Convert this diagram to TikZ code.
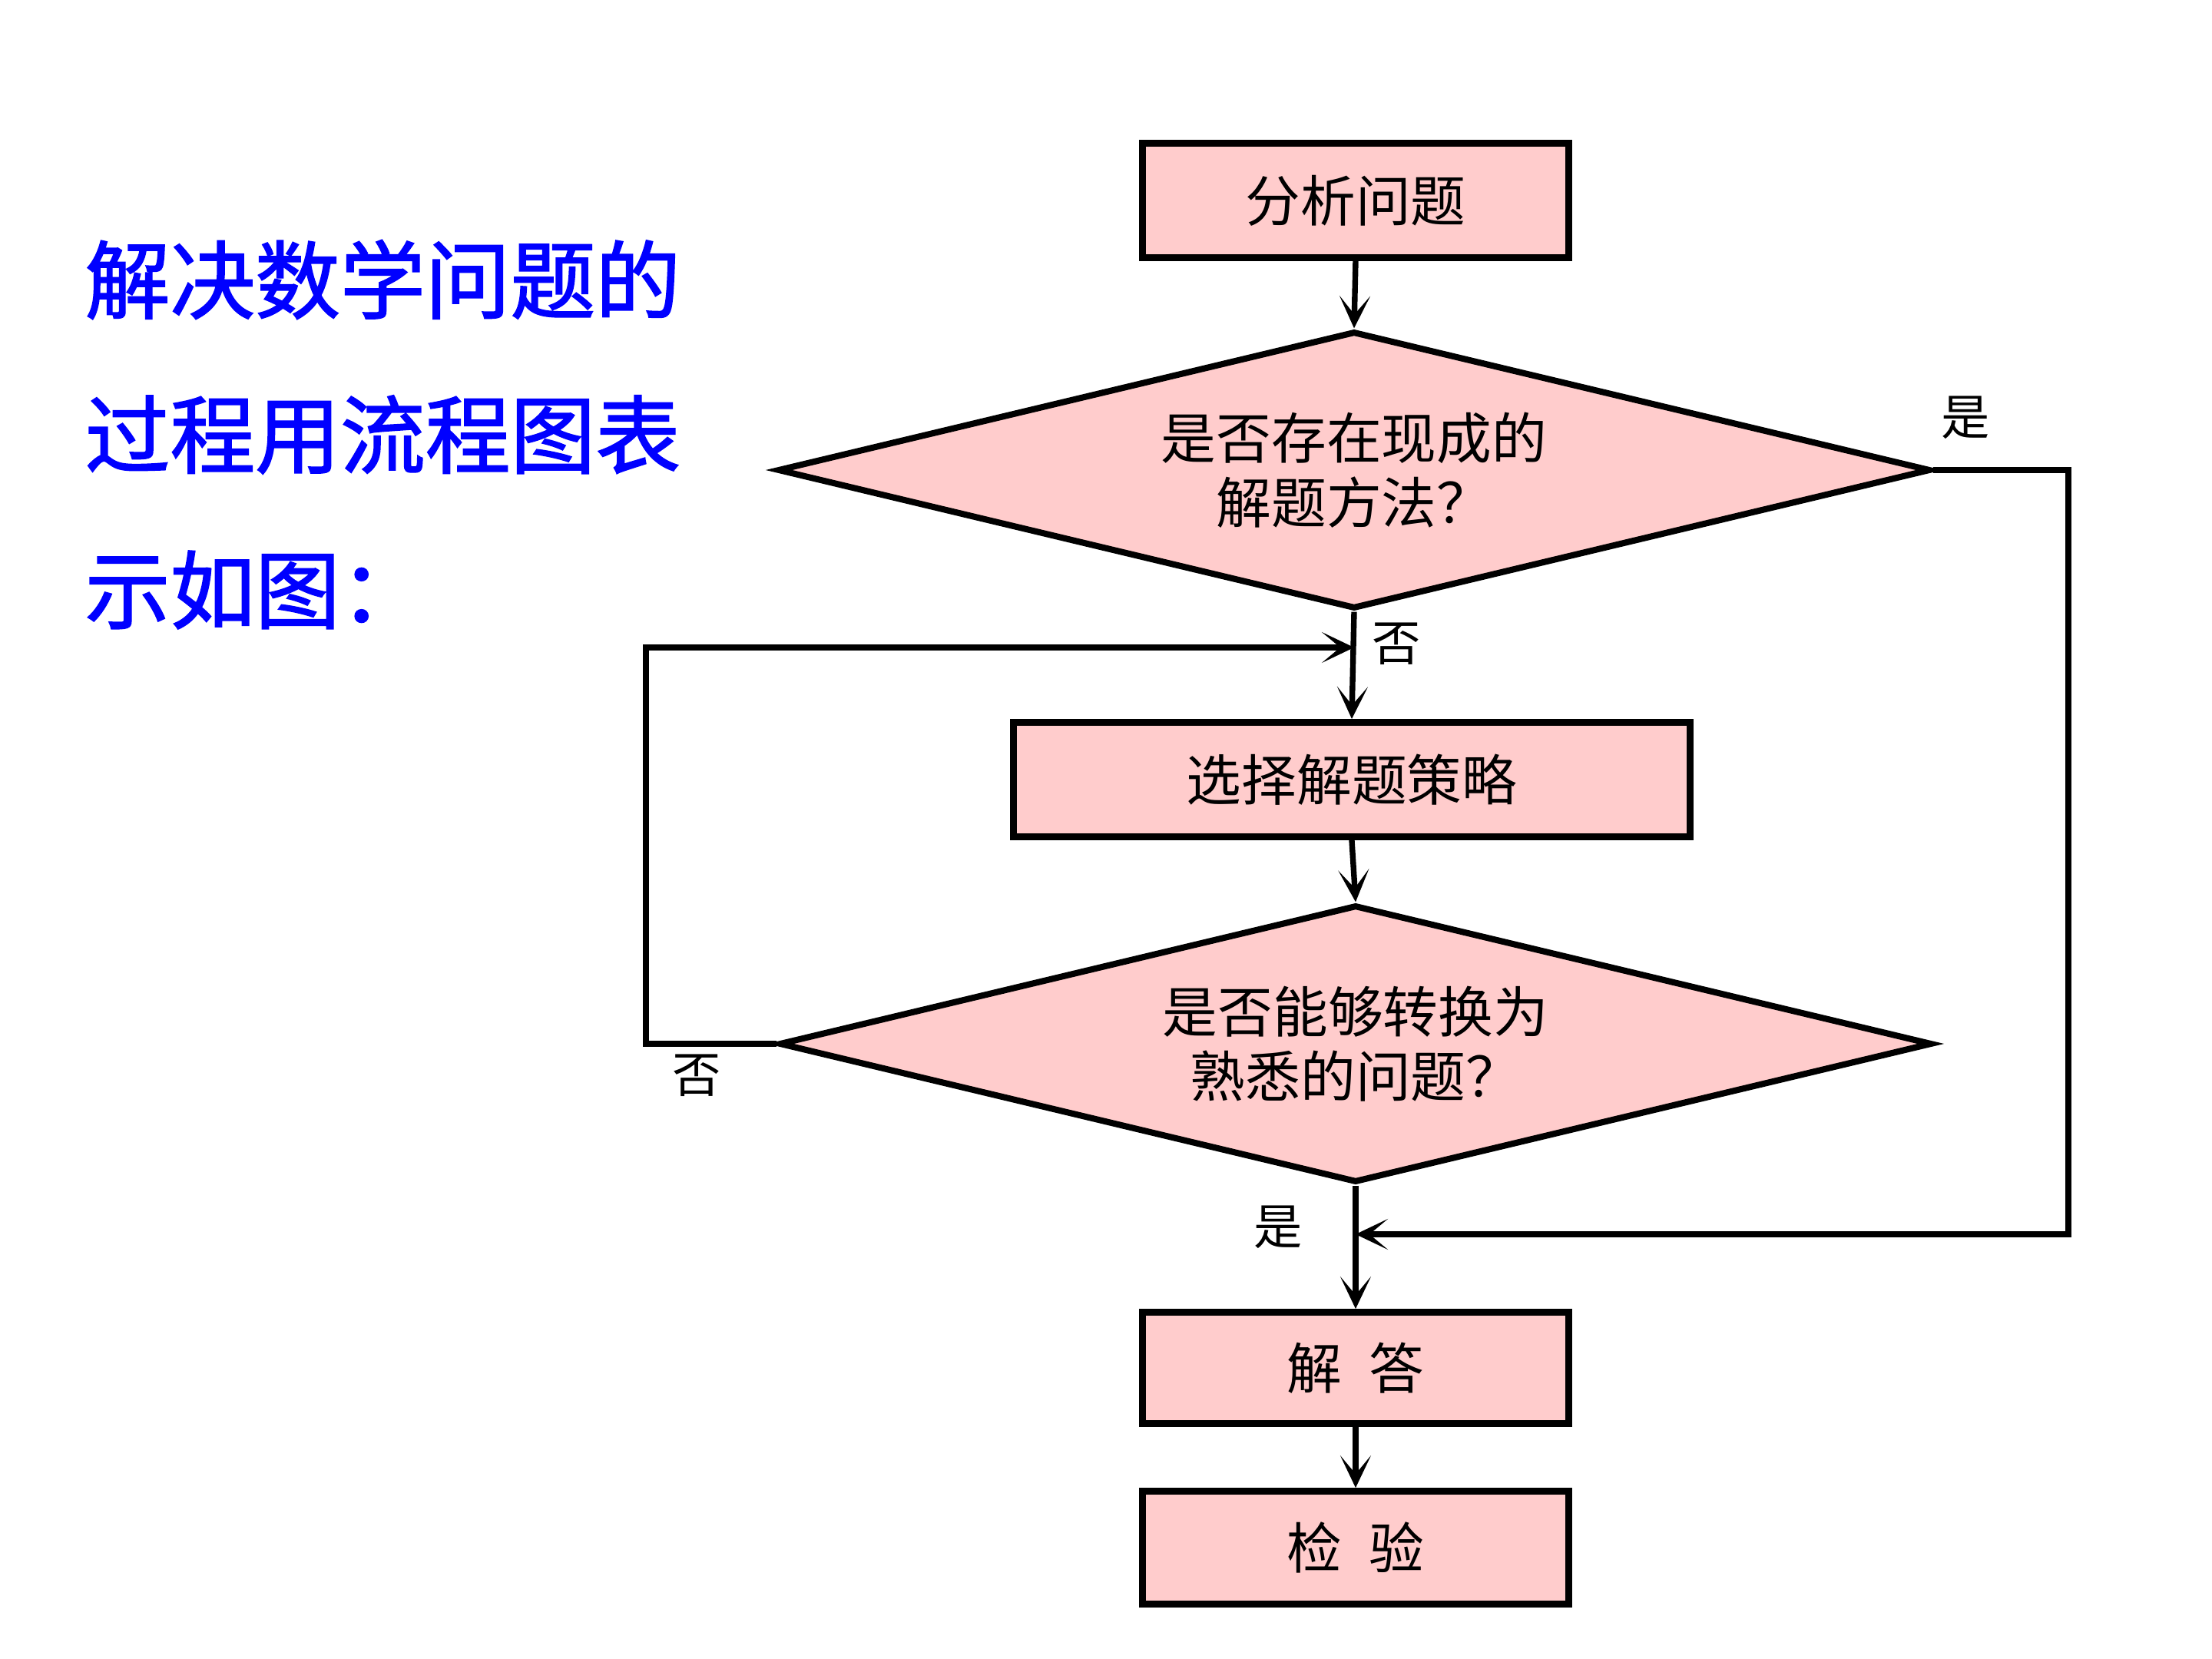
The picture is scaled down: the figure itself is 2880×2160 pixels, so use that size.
\documentclass[tikz,border=0pt]{standalone}
\usepackage{fontspec}
\setmainfont{Noto Sans CJK SC}
\newfontfamily\ttlfont{Noto Sans CJK SC}[FakeBold=1.6]
\usetikzlibrary{shapes.geometric,arrows.meta}
\definecolor{boxpink}{HTML}{FFCCCC}
\definecolor{titleblue}{HTML}{0000FF}
\tikzset{
  procbox/.style={draw=black, line width=2.5pt, fill=boxpink, rectangle, inner sep=0pt,
    font=\fontsize{20.4pt}{24pt}\selectfont},
  decision/.style={draw=black, line width=2.3pt, fill=boxpink, diamond, inner sep=0pt,
    shape aspect=4.16, minimum width=15.0cm, minimum height=3.61cm, align=center,
    font=\fontsize{20.4pt}{24pt}\selectfont},
  arr/.style={line width=2.1pt, -{Stealth[length=0.42cm, width=0.4cm, inset=0.24cm]}},
  lbl/.style={inner sep=0pt, font=\fontsize{18pt}{20pt}\selectfont},
  ttl/.style={inner sep=0pt, anchor=west, text=titleblue,
    font=\fontsize{31.5pt}{36pt}\ttlfont}
}
\begin{document}
\begin{tikzpicture}[x=0.01cm, y=-0.01cm]
\useasboundingbox (0,0) rectangle (2880,2160);
% title
\node[ttl] (t1) at (110,364) {解决数学问题的};
\node[ttl] (t2) at (110,566) {过程用流程图表};
\node[ttl] (t3) at (110,768) {示如图：};
% nodes
\node[procbox, minimum width=5.54cm, minimum height=1.49cm] (b1) at (1765,261) {分析问题};
\node[decision] (d1) at (1763,612) {是否存在现成的\\解题方法？};
\node[procbox, minimum width=8.81cm, minimum height=1.49cm] (b2) at (1760,1015) {选择解题策略};
\node[decision] (d2) at (1765,1359) {是否能够转换为\\熟悉的问题？};
\node[procbox, minimum width=5.54cm, minimum height=1.45cm] (b3) at (1765,1781) {解\hspace{0.5em}答};
\node[procbox, minimum width=5.54cm, minimum height=1.47cm] (b4) at (1765,2015) {检\hspace{0.5em}验};
% junctions
\coordinate (j1) at (1763,843);
\coordinate (j2) at (1765,1607);
\coordinate (L) at (841,1359);
\coordinate (R) at (2693,1607);
% connectors
\draw[arr] (b1.south) -- (d1.north);
\draw[arr] (d1.south) -- (b2.north);
\draw[arr] (b2.south) -- (d2.north);
\draw[arr] (d2.south) -- (b3.north);
\draw[arr] (b3.south) -- (b4.north);
\draw[arr] (d2.west) -- (L) |- (j1);
\draw[arr] (d1.east) -| (R) -- (j2);
% labels
\node[lbl] (y1) at (2559,544) {是};
\node[lbl] (n1) at (1818,838) {否};
\node[lbl] (n2) at (907,1400) {否};
\node[lbl] (y2) at (1664,1598) {是};
\end{tikzpicture}
\end{document}
